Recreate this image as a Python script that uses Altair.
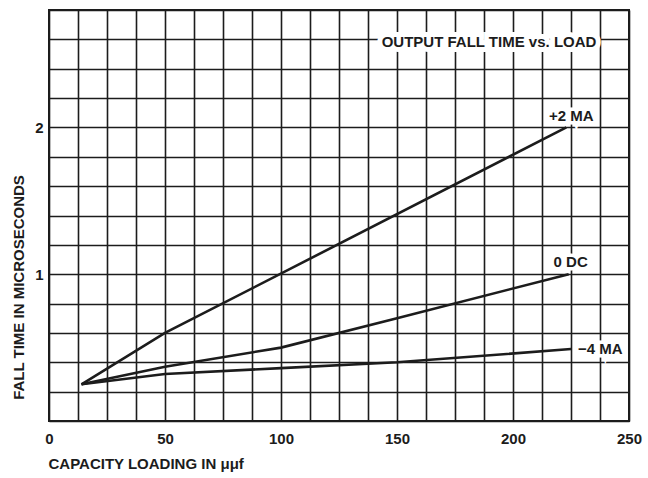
import altair as alt
import pandas as pd

# Fall time (microseconds) against capacitive load (micro-micro-farads)
cap_plus2 = [14, 50, 223]
fall_plus2 = [0.25, 0.60, 2.00]

cap_zero = [14, 50, 100, 150, 224]
fall_zero = [0.25, 0.37, 0.50, 0.70, 1.00]

cap_minus4 = [14, 50, 100, 150, 225]
fall_minus4 = [0.25, 0.32, 0.36, 0.40, 0.49]

series_names = ["+2 MA", "0 DC", "\u22124 MA"]

x_grid = [i * 12.5 for i in range(21)]
y_grid = [round(i * 0.2, 1) for i in range(15)]

FONT = "Liberation Sans"
WEIGHT = "bold"
INK = "#1c1c1c"

rows = []
for name, xs, ys in zip(series_names,
                        [cap_plus2, cap_zero, cap_minus4],
                        [fall_plus2, fall_zero, fall_minus4]):
    for i, (xv, yv) in enumerate(zip(xs, ys)):
        rows.append({"series": name, "cap": xv, "fall": yv, "order": i})
df = pd.DataFrame(rows)

ends = df.sort_values("order").groupby("series", as_index=False).last()

x_scale = alt.Scale(domain=[0, 250], nice=False, zero=True)
y_scale = alt.Scale(domain=[0, 2.8], nice=False)

x_ax = alt.Axis(
    values=x_grid,
    labelExpr="datum.value % 50 == 0 ? datum.label : ''",
    ticks=False, domain=False, grid=True,
    gridColor=INK, gridWidth=1.6, gridOpacity=1,
    labelFont=FONT, labelFontSize=15, labelFontWeight=WEIGHT,
    labelColor=INK, labelPadding=10, labelFlush=False, labelOverlap=False,
    title="CAPACITY LOADING IN \u03bc\u03bcf",
    titleFont=FONT, titleFontSize=15, titleFontWeight=WEIGHT, titleColor=INK,
    titleAnchor="start", titleAlign="left", titleX=-1, titleY=47,
    titleBaseline="alphabetic",
)
y_ax = alt.Axis(
    values=y_grid,
    labelExpr="(datum.value > 0.5 && abs(datum.value - round(datum.value)) < 0.001) ? format(datum.value, 'd') : ''",
    ticks=False, domain=False, grid=True,
    gridColor=INK, gridWidth=1.6, gridOpacity=1,
    labelFont=FONT, labelFontSize=15, labelFontWeight=WEIGHT,
    labelColor=INK, labelPadding=6, labelFlush=False, labelOverlap=False,
    title="FALL TIME IN MICROSECONDS",
    titleFont=FONT, titleFontSize=15, titleFontWeight=WEIGHT, titleColor=INK,
    titleAngle=-90, titleX=-31, titleY=277, titleAlign="center",
    titleBaseline="middle",
)


def xy():
    # Same scale and axis definition for every layer so they merge cleanly
    return dict(
        x=alt.X("cap:Q", scale=x_scale, axis=x_ax),
        y=alt.Y("fall:Q", scale=y_scale, axis=y_ax),
    )


lines = alt.Chart(df).mark_line(color=INK, strokeWidth=2.6).encode(
    detail="series:N", order="order:Q", **xy()
)

# Per-series label placement relative to the end of each curve
label_specs = {
    "+2 MA": dict(align="center", baseline="bottom", dx=5, dy=-3),
    "0 DC": dict(align="center", baseline="bottom", dx=2, dy=-4),
    "\u22124 MA": dict(align="left", baseline="middle", dx=7, dy=0),
}

halo_layers = []
text_layers = []
for name, spec in label_specs.items():
    src = alt.Chart(ends[ends["series"] == name])
    halo_layers.append(
        src.mark_text(font=FONT, fontSize=15, fontWeight=WEIGHT, stroke="white",
                      strokeWidth=7, fill="white", **spec)
        .encode(text="series:N", **xy())
    )
    text_layers.append(
        src.mark_text(font=FONT, fontSize=15, fontWeight=WEIGHT, color=INK, **spec)
        .encode(text="series:N", **xy())
    )

# Panel heading, set inside the grid on a white patch
title_df = pd.DataFrame({"t": ["OUTPUT FALL TIME vs. LOAD"]})
title_halo = alt.Chart(title_df).mark_text(
    font=FONT, fontSize=15, fontWeight=WEIGHT, stroke="white", strokeWidth=10,
    fill="white", align="center", baseline="middle",
).encode(x=alt.value(440), y=alt.value(32), text="t:N")
title_text = alt.Chart(title_df).mark_text(
    font=FONT, fontSize=15, fontWeight=WEIGHT, color=INK,
    align="center", baseline="middle",
).encode(x=alt.value(440), y=alt.value(32), text="t:N")

chart = alt.layer(
    *halo_layers, title_halo,
    lines,
    *text_layers, title_text,
).properties(
    width=580, height=411,
    padding={"left": 49, "top": 10, "right": 19, "bottom": 57},
    autosize=alt.AutoSizeParams(type="none"),
    background="white",
).configure_view(
    stroke=INK, strokeWidth=2
)

chart.save("out.html", embed_options={"renderer": "svg", "actions": False})
